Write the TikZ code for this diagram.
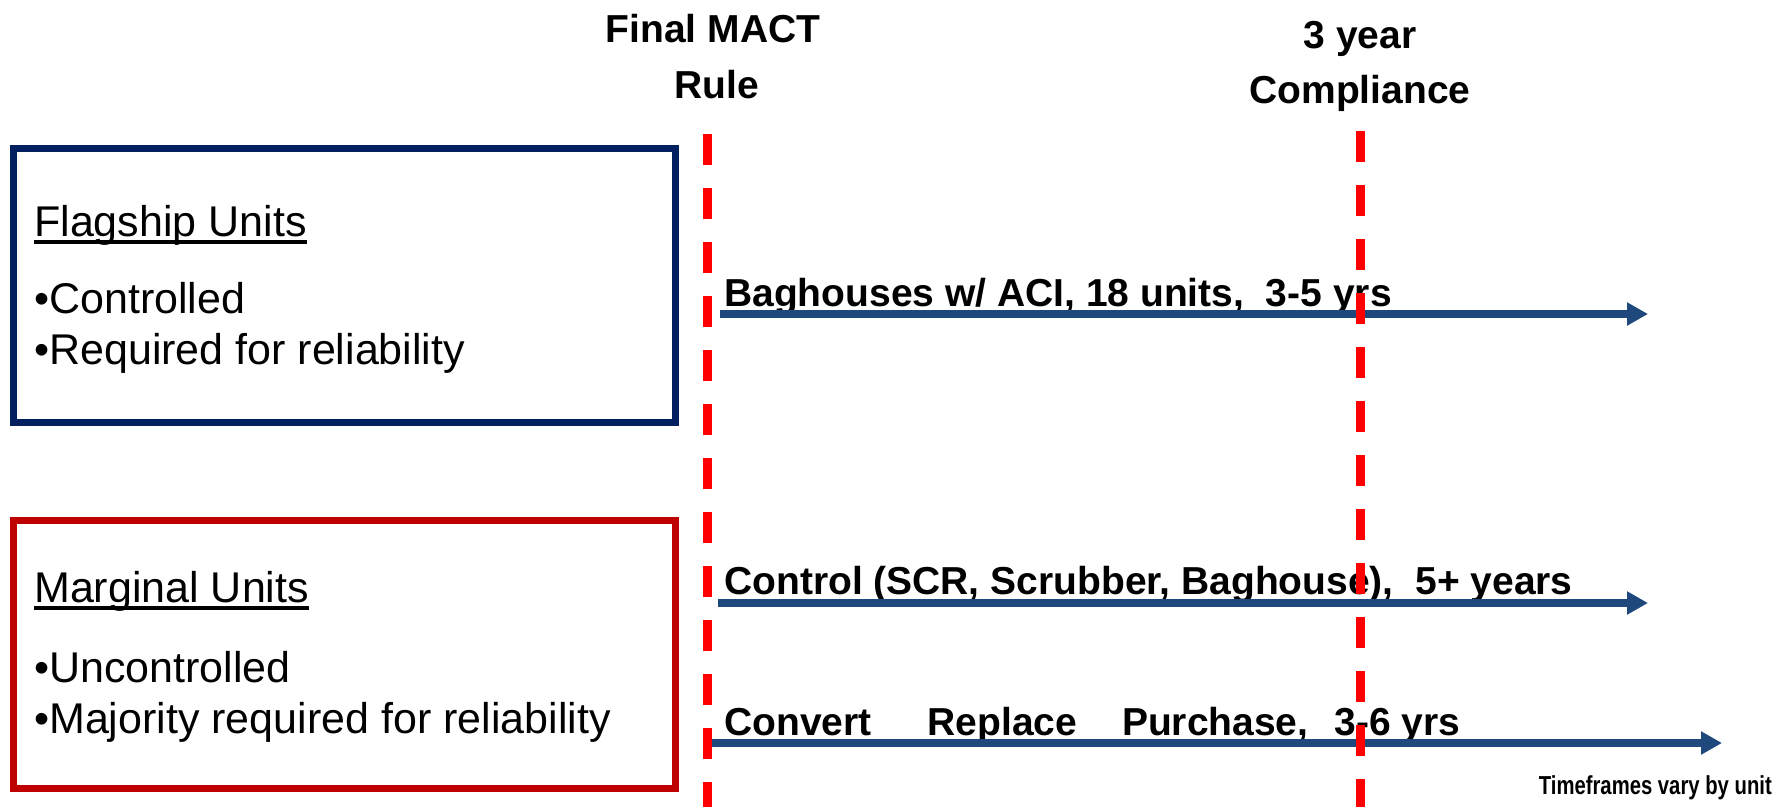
\documentclass[tikz,border=0pt]{standalone}
\usepackage{fontspec}
\setmainfont{Liberation Sans}
\usetikzlibrary{arrows.meta}
\definecolor{navybox}{HTML}{002060}
\definecolor{redbox}{HTML}{C00000}
\definecolor{dashred}{HTML}{FF0000}
\definecolor{arrowblue}{HTML}{1F497D}
\begin{document}
\begin{tikzpicture}[x=1pt,y=-1pt,
  titletext/.style={font=\fontsize{39}{39}\selectfont\bfseries, inner sep=0pt, anchor=base},
  tlabel/.style={font=\fontsize{39}{39}\selectfont\bfseries, inner sep=0pt, anchor=base west},
  boxtext/.style={font=\fontsize{43}{43}\selectfont, inner sep=0pt, anchor=base west},
  unitbox/.style={line width=7pt},
  timeline/.style={draw=arrowblue, line width=7.5pt, -{Triangle[length=21pt,width=22pt]}},
  milestone/.style={draw=dashred, line width=9pt, dash pattern=on 31pt off 23pt},
  uline/.style={line width=3.5pt}
]
\useasboundingbox (0,0) rectangle (1787,807);

% unit boxes
\draw[unitbox, draw=navybox] (13.5,148.5) rectangle (675.5,422.5);
\draw[unitbox, draw=redbox] (13.5,520.5) rectangle (675.5,788);

% box texts
\node[boxtext] (flag) at (34,236) {Flagship Units};
\draw[uline] ([yshift=-6pt]flag.base west) -- ([yshift=-6pt]flag.base east);
\node[boxtext] (ctrl) at (34,313) {•Controlled};
\node[boxtext] (req) at (34,364) {•Required for reliability};

\node[boxtext] (marg) at (34,602) {Marginal Units};
\draw[uline] ([yshift=-6pt]marg.base west) -- ([yshift=-6pt]marg.base east);
\node[boxtext] (unc) at (34,682) {•Uncontrolled};
\node[boxtext] (maj) at (34,733) {•Majority required for reliability};

% titles
\node[titletext] (final1) at (713,42) {Final MACT};
\node[titletext] (final2) at (717,98) {Rule};
\node[titletext] (comp1) at (1360,48) {3 year};
\node[titletext] (comp2) at (1360,103) {Compliance};

% timeline labels
\node[tlabel] (l1) at (724,306) {Baghouses w/ ACI, 18 units, \ 3-5 yrs};
\node[tlabel] (l2) at (724,594) {Control (SCR, Scrubber, Baghouse), \ 5+ years};
\node[tlabel] (l3) at (724,735) {Convert\hspace{56pt}Replace\hspace{45pt}Purchase,\hspace{26pt}3-6 yrs};

% arrows
\coordinate (a1s) at (720,314);
\coordinate (a1e) at (1648,314);
\coordinate (a2s) at (718,603);
\coordinate (a2e) at (1648,603);
\coordinate (a3s) at (709,743);
\coordinate (a3e) at (1722,743);
\draw[timeline] (a1s) -- (a1e);
\draw[timeline] (a2s) -- (a2e);
\draw[timeline] (a3s) -- (a3e);

% footnote
\node[inner sep=0pt, anchor=base east] (note) at (1772,794)
  {\scalebox{0.78}[1]{\fontsize{26}{26}\selectfont\bfseries Timeframes vary by unit}};

% milestone lines
\coordinate (m1t) at (707,134);
\coordinate (m1b) at (707,807);
\coordinate (m2t) at (1360,131);
\coordinate (m2b) at (1360,807);
\draw[milestone] (m1t) -- (m1b);
\draw[milestone] (m2t) -- (m2b);
\end{tikzpicture}
\end{document}
